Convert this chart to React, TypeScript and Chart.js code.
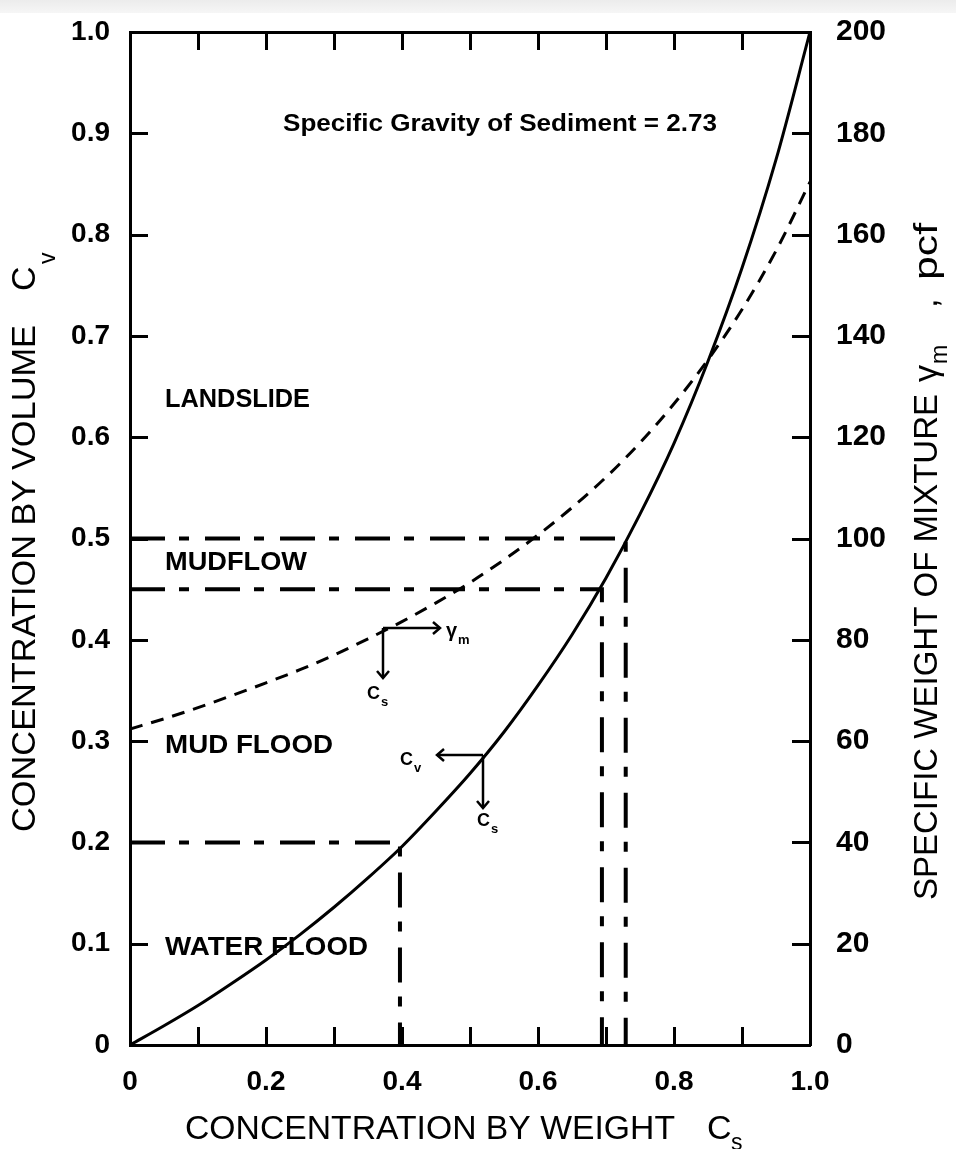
import React, { useEffect, useRef } from 'react';
import { Chart, registerables } from 'chart.js';

Chart.register(...registerables);

// ---- data ----
const csValues = [0, 0.05, 0.1, 0.15, 0.2, 0.25, 0.3, 0.35, 0.4, 0.45, 0.5, 0.55, 0.6, 0.65, 0.7, 0.75, 0.8, 0.85, 0.9, 0.95, 1.0];
// concentration by volume Cv (left axis), solid curve
const cvValues = [0, 0.019, 0.039, 0.061, 0.084, 0.109, 0.136, 0.165, 0.196, 0.231, 0.268, 0.309, 0.355, 0.405, 0.461, 0.524, 0.594, 0.675, 0.767, 0.874, 1.0];
// specific weight of mixture gamma_m, pcf (right axis), dashed curve
const gammaValues = [62.4, 64.4, 66.6, 69.0, 71.5, 74.1, 77.0, 80.2, 83.6, 87.3, 91.3, 95.8, 100.7, 106.1, 112.1, 118.9, 126.6, 135.3, 145.2, 156.8, 170.4];

// reference (dash-dot) lines: Cs / Cv pairs
const refMudflowTopX = [0, 0.729, 0.729];
const refMudflowTopY = [0.5, 0.5, 0];
const refMudflowBottomX = [0, 0.694, 0.694];
const refMudflowBottomY = [0.45, 0.45, 0];
const refWaterFloodX = [0, 0.397, 0.397];
const refWaterFloodY = [0.2, 0.2, 0];

const xTickLabels = ['0', '0.2', '0.4', '0.6', '0.8', '1.0'];
const yTickLabels = ['0', '0.1', '0.2', '0.3', '0.4', '0.5', '0.6', '0.7', '0.8', '0.9', '1.0'];
const y2TickLabels = ['0', '20', '40', '60', '80', '100', '120', '140', '160', '180', '200'];

const regionLabels = ['LANDSLIDE', 'MUDFLOW', 'MUD FLOOD', 'WATER FLOOD'];
const regionLabelCv = [0.637, 0.476, 0.295, 0.096];

const FONT = '"Liberation Sans", Arial, sans-serif';

const pts = (xs: number[], ys: number[]) => xs.map((x, i) => ({ x, y: ys[i] }));

const overlayPlugin = {
  id: 'overlay',
  afterDraw(chart: any) {
    const { ctx, chartArea: a, scales } = chart;
    const sx = scales.x, sy = scales.y, sy2 = scales.y2;
    ctx.save();
    ctx.strokeStyle = '#000';
    ctx.fillStyle = '#000';
    ctx.lineWidth = 3;
    ctx.lineCap = 'butt';
    const TL = 18;
    const line = (x1: number, y1: number, x2: number, y2: number) => {
      ctx.beginPath();
      ctx.moveTo(x1, y1);
      ctx.lineTo(x2, y2);
      ctx.stroke();
    };
    // inward tick marks
    sx.ticks.forEach((t: any) => {
      if (t.value <= 0.0001 || t.value >= 0.9999) return;
      const px = Math.round(sx.getPixelForValue(t.value)) + 0.5;
      line(px, a.bottom, px, a.bottom - TL);
      line(px, a.top, px, a.top + TL);
    });
    sy.ticks.forEach((t: any) => {
      if (t.value <= 0.0001 || t.value >= 0.9999) return;
      const py = Math.round(sy.getPixelForValue(t.value)) + 0.5;
      line(a.left, py, a.left + TL, py);
    });
    sy2.ticks.forEach((t: any) => {
      if (t.value <= 0.01 || t.value >= 199.99) return;
      const py = Math.round(sy2.getPixelForValue(t.value)) + 0.5;
      line(a.right, py, a.right - TL, py);
    });

    // text drawn stretched horizontally to a target width
    const stretched = (text: string, x: number, y: number, targetW: number) => {
      const w = ctx.measureText(text).width;
      ctx.save();
      ctx.translate(x, y);
      ctx.scale(targetW / w, 1);
      ctx.fillText(text, 0, 0);
      ctx.restore();
    };

    // gravity note
    ctx.textBaseline = 'alphabetic';
    ctx.textAlign = 'left';
    ctx.font = `bold 23px ${FONT}`;
    stretched('Specific Gravity of Sediment = 2.73', sx.getPixelForValue(0.225), sy.getPixelForValue(0.9) - 2, 434);

    // region labels
    ctx.textBaseline = 'middle';
    ctx.font = `bold 26px ${FONT}`;
    const regionW = [145, 142, 168, 203];
    regionLabels.forEach((lab, i) => {
      stretched(lab, sx.getPixelForValue(0.0515), sy.getPixelForValue(regionLabelCv[i]), regionW[i]);
    });

    // arrow annotations
    ctx.lineWidth = 2.5;
    const chevron = (x: number, y: number, dir: string) => {
      ctx.beginPath();
      if (dir === 'right') { ctx.moveTo(x - 7, y - 6); ctx.lineTo(x, y); ctx.lineTo(x - 7, y + 6); }
      if (dir === 'left') { ctx.moveTo(x + 7, y - 6); ctx.lineTo(x, y); ctx.lineTo(x + 7, y + 6); }
      if (dir === 'down') { ctx.moveTo(x - 6, y - 7); ctx.lineTo(x, y); ctx.lineTo(x + 6, y - 7); }
      ctx.stroke();
    };
    const sub = (main: string, s: string, x: number, y: number, size = 18) => {
      ctx.textBaseline = 'alphabetic';
      ctx.textAlign = 'left';
      ctx.font = `bold ${size}px ${FONT}`;
      ctx.fillText(main, x, y);
      const w = ctx.measureText(main).width;
      ctx.font = `bold 13px ${FONT}`;
      ctx.fillText(s, x + w + 1, y + 7);
    };
    // corner 1 on gamma curve
    const c1x = Math.round(sx.getPixelForValue(0.372));
    const c1y = Math.round(sy2.getPixelForValue(82.3));
    line(c1x, c1y, c1x + 57, c1y);
    chevron(c1x + 57, c1y, 'right');
    line(c1x, c1y, c1x, c1y + 50);
    chevron(c1x, c1y + 50, 'down');
    sub('γ', 'm', c1x + 63, c1y + 9, 20);
    sub('C', 's', c1x - 16, c1y + 71);
    // corner 2 on Cv curve
    const c2x = Math.round(sx.getPixelForValue(0.519));
    const c2y = Math.round(sy.getPixelForValue(0.286));
    line(c2x, c2y, c2x - 46, c2y);
    chevron(c2x - 46, c2y, 'left');
    line(c2x, c2y, c2x, c2y + 53);
    chevron(c2x, c2y + 53, 'down');
    sub('C', 'v', c2x - 83, c2y + 10);
    sub('C', 's', c2x - 6, c2y + 71);

    // axis titles
    const titleMain = `34px ${FONT}`;
    const titleSub = `23px ${FONT}`;
    ctx.textBaseline = 'alphabetic';
    ctx.textAlign = 'left';
    // bottom
    ctx.font = titleMain;
    stretched('CONCENTRATION BY WEIGHT', 185, 1139, 490);
    ctx.fillText('C', 707, 1139);
    ctx.font = titleSub;
    ctx.fillText('s', 731, 1150);
    // left (rotated)
    ctx.save();
    ctx.translate(35, 832);
    ctx.rotate(-Math.PI / 2);
    ctx.font = titleMain;
    stretched('CONCENTRATION BY VOLUME', 0, 0, 507);
    ctx.fillText('C', 541, 0);
    ctx.font = titleSub;
    ctx.fillText('v', 568, 20);
    ctx.restore();
    // right (rotated)
    ctx.save();
    ctx.translate(937, 900);
    ctx.rotate(-Math.PI / 2);
    ctx.font = titleMain;
    stretched('SPECIFIC WEIGHT OF MIXTURE', 0, 0, 506);
    ctx.fillText('γ', 518, 0);
    ctx.font = titleSub;
    ctx.fillText('m', 536, 10);
    ctx.font = titleMain;
    ctx.fillText(',', 592, 0);
    stretched('pcf', 620, 0, 57);
    ctx.restore();

    ctx.restore();
  },
};

export default function App() {
  const canvasRef = useRef<HTMLCanvasElement | null>(null);

  useEffect(() => {
    if (!canvasRef.current) return;
    const tickFont = { family: FONT, size: 28, weight: 'bold' as const };
    const fitV = (w: number) => (s: any) => {
      s.width = w;
      s.paddingTop = 0;
      s.paddingBottom = 0;
    };
    const fitH = (h: number) => (s: any) => {
      s.height = h;
      s.paddingLeft = 0;
      s.paddingRight = 0;
    };
    const chart = new Chart(canvasRef.current, {
      type: 'line',
      data: {
        datasets: [
          {
            label: 'Cv',
            data: pts(csValues, cvValues),
            borderColor: '#000',
            borderWidth: 3,
            pointRadius: 0,
            cubicInterpolationMode: 'monotone',
            yAxisID: 'y',
          },
          {
            label: 'gamma_m',
            data: pts(csValues, gammaValues),
            borderColor: '#000',
            borderWidth: 3,
            borderDash: [13, 9],
            pointRadius: 0,
            cubicInterpolationMode: 'monotone',
            yAxisID: 'y2',
          },
          {
            label: 'Cv 0.50',
            data: pts(refMudflowTopX, refMudflowTopY),
            borderColor: '#000',
            borderWidth: 4,
            borderDash: [35, 14, 10, 16],
            pointRadius: 0,
            tension: 0,
            yAxisID: 'y',
          },
          {
            label: 'Cv 0.45',
            data: pts(refMudflowBottomX, refMudflowBottomY),
            borderColor: '#000',
            borderWidth: 4,
            borderDash: [35, 14, 10, 16],
            pointRadius: 0,
            tension: 0,
            yAxisID: 'y',
          },
          {
            label: 'Cv 0.20',
            data: pts(refWaterFloodX, refWaterFloodY),
            borderColor: '#000',
            borderWidth: 4,
            borderDash: [35, 14, 10, 16],
            pointRadius: 0,
            tension: 0,
            yAxisID: 'y',
          },
        ],
      },
      options: {
        responsive: false,
        animation: false,
        devicePixelRatio: 1,
        layout: { padding: 0 },
        plugins: { legend: { display: false }, tooltip: { enabled: false } },
        scales: {
          x: {
            type: 'linear',
            position: 'bottom',
            min: 0,
            max: 1,
            grid: { display: false, drawTicks: false },
            border: { display: true, width: 3, color: '#000' },
            ticks: {
              stepSize: 0.1,
              autoSkip: false,
              maxRotation: 0,
              padding: 20,
              color: '#000',
              font: tickFont,
              callback: (v: any) => {
                const i = Math.round(Number(v) * 10);
                return i % 2 === 0 ? xTickLabels[i / 2] : '';
              },
            },
            afterFit: fitH(104),
          },
          x2: {
            type: 'linear',
            position: 'top',
            min: 0,
            max: 1,
            grid: { display: false, drawTicks: false },
            border: { display: true, width: 3, color: '#000' },
            ticks: { display: false },
            afterFit: fitH(32),
          },
          y: {
            type: 'linear',
            position: 'left',
            min: 0,
            max: 1,
            grid: { display: false, drawTicks: false },
            border: { display: true, width: 3, color: '#000' },
            ticks: {
              stepSize: 0.1,
              autoSkip: false,
              padding: 20,
              color: '#000',
              font: tickFont,
              callback: (v: any) => yTickLabels[Math.round(Number(v) * 10)],
            },
            afterFit: fitV(130),
          },
          y2: {
            type: 'linear',
            position: 'right',
            min: 0,
            max: 200,
            grid: { display: false, drawTicks: false },
            border: { display: true, width: 3, color: '#000' },
            ticks: {
              stepSize: 20,
              autoSkip: false,
              padding: 26,
              color: '#000',
              font: { family: FONT, size: 30, weight: 'bold' as const },
              callback: (v: any) => y2TickLabels[Math.round(Number(v) / 20)],
            },
            afterFit: fitV(146),
          },
        },
      },
      plugins: [overlayPlugin],
    } as any);
    return () => chart.destroy();
  }, []);

  return (
    <div style={{ position: 'absolute', left: 0, top: 0, width: 956, height: 1149, background: '#fff' }}>
      <canvas ref={canvasRef} width={956} height={1149} style={{ width: 956, height: 1149, display: 'block' }} />
      <div style={{ position: 'absolute', left: 0, top: 0, width: 956, height: 13, background: 'linear-gradient(#ececec, #f6f6f6)' }} />
    </div>
  );
}
